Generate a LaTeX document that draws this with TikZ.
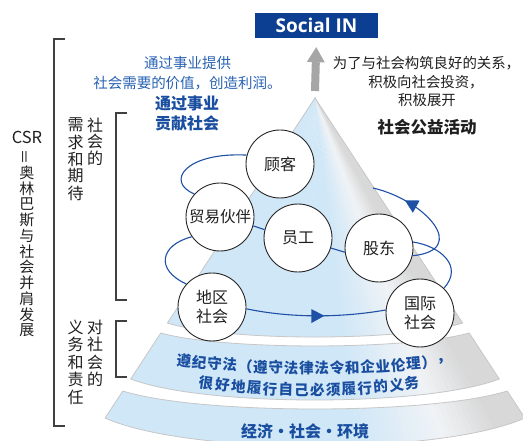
\documentclass[tikz,border=0pt]{standalone}
\usepackage{fontspec}
\setmainfont{Noto Sans CJK SC}
\newfontfamily\latinfont{Open Sans}
\usetikzlibrary{arrows.meta,decorations.markings}
\definecolor{boxblue}{RGB}{12,62,145}
\definecolor{txtblue}{RGB}{40,98,180}
\definecolor{darkblue}{RGB}{25,78,160}
\definecolor{spiral}{RGB}{30,80,165}
\definecolor{cb}{RGB}{208,231,247}
\definecolor{cw}{RGB}{240,243,246}
\definecolor{cg}{RGB}{216,216,216}
\definecolor{linegray}{RGB}{64,64,64}
\definecolor{arrowgray}{RGB}{166,166,166}
\newcommand\fs[1]{\fontsize{#1}{#1}\selectfont}
\def\pcone{(315,98) -- (167.4,323) .. controls (226.4,341.7) and (403.6,341.7) .. (462.6,323) -- cycle}
\def\ptwo{(160.8,333) .. controls (222.5,350.3) and (407.5,350.3) .. (469.2,333) -- (499.3,379) .. controls (425.6,407) and (204.4,407) .. (130.7,379) -- cycle}
\def\pthree{(122.8,391) .. controls (199.7,415) and (430.3,415) .. (507.2,391) -- (524.9,418) .. controls (441,455.3) and (189,455.3) .. (105.1,418) -- cycle}
\begin{document}
\begin{tikzpicture}[x=1pt,y=-1pt,
  tx/.style={inner sep=0pt,outer sep=0pt,text=black!88},
  vch/.style={tx,font=\fs{16}},
  circ/.style={circle,draw=black!85,fill=white,line width=0.9pt,minimum size=68pt,inner sep=0pt,align=center,text=black!88},
  spir/.style={draw=spiral,line width=1.1pt},
  brk/.style={draw=linegray,line width=1.2pt},
  outl/.style={draw=black!22,line width=0.8pt},
  t2/.style={tx,text=darkblue,font=\bfseries\fs{14.6}},
  sinbox/.style={fill=boxblue,text=white,minimum width=123pt,minimum height=25pt,inner sep=0pt,font=\latinfont\bfseries\fs{19}},
  grayarrow/.style={draw=arrowgray,line width=8pt,-{Triangle[length=15pt,width=18pt,line width=0pt]}},
  tipmark/.style={postaction={decorate},decoration={markings,mark=at position #1 with {\arrow{Triangle[length=13pt,width=14pt,line width=0pt]}}}}
]
\fill[white] (0,0) rectangle (523,441);
\useasboundingbox (0,0) rectangle (523,441);

% conic shading of the cone and its tiers
\begin{scope}
\clip \pcone \ptwo \pthree;
\foreach \k in {0,...,79}{
  \pgfmathsetmacro\ua{-0.7+\k*0.0175}
  \pgfmathsetmacro\ub{\ua+0.0215}
  \pgfmathsetmacro\um{\ua+0.00875}
  \pgfmathsetmacro\tb{max(0,min(100,(0.38-\um)/0.26*100))}
  \pgfmathsetmacro\tg{max(0,min(100,(\um-0.38)/0.17*100))}
  \ifdim\um pt<0.38pt\relax\colorlet{wc}{cb!\tb!cw}\else\colorlet{wc}{cg!\tg!cw}\fi
  \fill[wc] (315,98) -- ({315+\ua*400},498) -- ({315+\ub*400},498) -- cycle;
}
\end{scope}
\draw[outl] \pcone;
\draw[outl] \ptwo;
\draw[outl] \pthree;

% Social IN box and arrow
\node[sinbox] (soc) at (316.5,25.5) {Social IN};
\coordinate (aS) at (315,91);
\draw[grayarrow,shorten >=9pt] (aS) -- (soc.south);

% brackets
\draw[brk] (65,39) -- (54,39) -- (54,426) -- (65,426);
\draw[brk] (127,113) -- (116,113) -- (116,300) -- (127,300);
\draw[brk] (127,321) -- (116,321) -- (116,377) -- (127,377);

% left vertical texts
\node[tx,font=\fs{16.5}] (csr) at (27,137) {CSR};
\node[tx,font=\fs{15},rotate=90] (eq) at (27,157) {＝};
\foreach \c [count=\i from 0] in {奥,林,巴,斯,与,社,会,并,肩,发,展}
  \node[tx,font=\fs{15}] (cv\i) at (27,{173+\i*15.7}) {\c};
\foreach \c [count=\i from 0] in {社,会,的}
  \node[vch] (sa\i) at (95,{125+\i*16.8}) {\c};
\foreach \c [count=\i from 0] in {需,求,和,期,待}
  \node[vch] (sb\i) at (75.5,{125+\i*17}) {\c};
\foreach \c [count=\i from 0] in {对,社,会,的}
  \node[vch] (sc\i) at (95,{327+\i*17.5}) {\c};
\foreach \c [count=\i from 0] in {义,务,和,责,任}
  \node[vch] (sd\i) at (75.5,{327+\i*17.5}) {\c};

% top texts
\node[tx,font=\fs{14.5},text=txtblue] (l1) at (187.5,63) {通过事业提供};
\node[tx,font=\fs{14.5},text=txtblue] (l2) at (187.5,83) {社会需要的价值，创造利润。};
\node[tx,font=\bfseries\fs{16},text=darkblue] (l3) at (187,103) {通过事业};
\node[tx,font=\bfseries\fs{16},text=darkblue] (l4) at (187,123) {贡献社会};
\node[tx,font=\fs{14.4}] (r1) at (426.5,63) {为了与社会构筑良好的关系，};
\node[tx,font=\fs{14.4}] (r2) at (426,82) {积极向社会投资，};
\node[tx,font=\fs{14.4}] (r3) at (427,100) {积极展开};
\node[tx,font=\bfseries\fs{16.5}] (r4) at (427,127) {社会公益活动};

% circles
\node[circ,font=\fs{16}] (gk) at (280,164) {顾客};
\node[circ,font=\fs{15.5}] (my) at (220,217) {贸易伙伴};
\node[circ,font=\fs{16}] (yg) at (298,238) {员工};
\node[circ,font=\fs{16}] (gd) at (379,248) {股东};
\node[circ,font=\fontsize{16}{19.5}\selectfont] (dq) at (212,307) {地区\\社会};
\node[circ,font=\fontsize{16}{19.5}\selectfont] (gj) at (420,313) {国际\\社会};
\coordinate (bk) at (373,188);

% spiral
\draw[spir] (gk.165) .. controls (185,152) and (165,182) .. (my.138);
\draw[spir] (my.-15) -- (yg.166);
\draw[spir] (yg.-17) -- (gd.187);
\draw[spir] (my.-145) .. controls (160,245) and (155,270) .. (dq.138);
\draw[spir] (gd.10) .. controls (440,246) and (464,266) .. (gj.46);
\draw[spir,tipmark=0.72] (gd.-13) .. controls (470,250) and (425,200) .. (bk);
\draw[spir,tipmark=0.56] (dq.-3) .. controls (290,318) and (340,318) .. (gj.175);

% tier texts
\foreach \c [count=\i] in {遵,纪,守,法,（,遵,守,法,律,法,令,和,企,业,伦,理,）,，}{
  \pgfmathsetmacro\dx{(\i-9.5)*15.3}
  \pgfmathsetmacro\yy{368-7.27*(\dx/130)*(\dx/130)}
  \pgfmathsetmacro\ang{atan(0.112*(\dx/130))}
  \node[t2,rotate=\ang] (ta\i) at ({314+\dx},\yy) {\c};
}
\foreach \c [count=\i] in {很,好,地,履,行,自,己,必,须,履,行,的,义,务}{
  \pgfmathsetmacro\dx{(\i-7.5)*15.8}
  \pgfmathsetmacro\yy{390-6.96*(\dx/102.7)*(\dx/102.7)}
  \pgfmathsetmacro\ang{atan(0.1356*(\dx/102.7))}
  \node[t2,rotate=\ang] (tb\i) at ({309.5+\dx},\yy) {\c};
}
\node[tx,text=darkblue,font=\bfseries\fs{16}] (t3) at (305,431) {经济・社会・环境};
\end{tikzpicture}
\end{document}
